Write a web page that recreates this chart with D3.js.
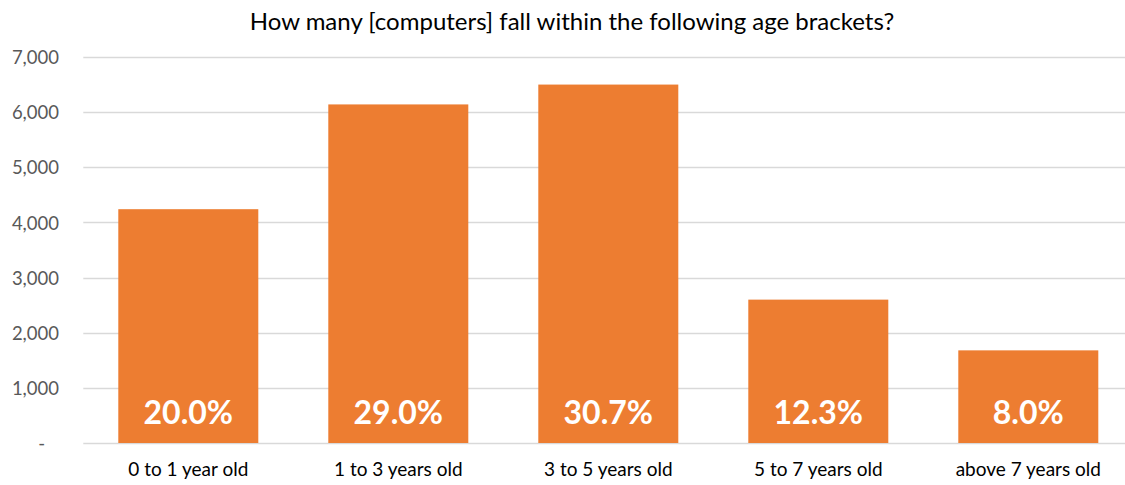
<!DOCTYPE html>
<html>
<head>
<meta charset="utf-8">
<script src="https://cdn.jsdelivr.net/npm/d3@7"></script>
<style>
  html, body { margin: 0; padding: 0; background: #fff; }
  svg { display: block; font-family: Lato, "Open Sans", sans-serif; }
</style>
</head>
<body>
<svg id="chart" width="1125" height="485"></svg>
<script>
// Computer counts per age bracket
const categories = ["0 to 1 year old", "1 to 3 years old", "3 to 5 years old", "5 to 7 years old", "above 7 years old"];
const counts = [4240, 6140, 6500, 2600, 1680];
const shareLabels = ["20.0%", "29.0%", "30.7%", "12.3%", "8.0%"];
const yTicks = [0, 1000, 2000, 3000, 4000, 5000, 6000, 7000];
const title = "How many [computers] fall within the following age brackets?";

const svg = d3.select("#chart");
const W = 1125, H = 485;
const plot = { left: 83.3, right: 1133.3, top: 57, bottom: 443 };

const x = d3.scaleBand()
  .domain(categories)
  .range([plot.left, plot.right])
  .paddingInner(1 / 3)
  .paddingOuter(1 / 6);

const y = d3.scaleLinear()
  .domain([0, 7000])
  .range([plot.bottom, plot.top]);

// Title
svg.append("text")
  .attr("x", 572)
  .attr("y", 30)
  .attr("text-anchor", "middle")
  .attr("fill", "#000")
  .style("font-size", "24px")
  .text(title);

// Horizontal gridlines
svg.append("g")
  .selectAll("line")
  .data(yTicks)
  .join("line")
  .attr("x1", plot.left)
  .attr("x2", W)
  .attr("y1", d => Math.round(y(d)) + 0.5)
  .attr("y2", d => Math.round(y(d)) + 0.5)
  .attr("stroke", "#d9d9d9")
  .attr("stroke-width", 1.3);

// Y axis labels (zero shown as a dash)
const fmt = d3.format(",");
const yAxis = d3.axisLeft(y)
  .tickValues(yTicks)
  .tickSize(0)
  .tickPadding(0)
  .tickFormat(d => d === 0 ? "-" : fmt(d));
const gy = svg.append("g")
  .attr("transform", "translate(59,0)")
  .call(yAxis);
gy.select(".domain").remove();
gy.selectAll("text")
  .attr("fill", "#595959")
  .style("font-family", "Lato, sans-serif")
  .style("font-size", "18.5px")
  .attr("dy", "0.36em");
gy.selectAll(".tick")
  .filter(d => d === 0)
  .select("text")
  .attr("x", -14);

// Bars
svg.append("g")
  .selectAll("rect")
  .data(categories)
  .join("rect")
  .attr("x", d => x(d))
  .attr("width", x.bandwidth())
  .attr("y", (d, i) => y(counts[i]))
  .attr("height", (d, i) => y(0) - y(counts[i]))
  .attr("fill", "#ed7d31");

// Share labels inside bars
svg.append("g")
  .selectAll("text")
  .data(categories)
  .join("text")
  .attr("x", d => x(d) + x.bandwidth() / 2)
  .attr("y", 424)
  .attr("text-anchor", "middle")
  .attr("fill", "#fff")
  .style("font-weight", "bold")
  .style("font-size", "32px")
  .text((d, i) => shareLabels[i]);

// Category axis labels
const xAxis = d3.axisBottom(x).tickSize(0).tickPadding(0);
const gx = svg.append("g")
  .attr("transform", `translate(0,${plot.bottom})`)
  .call(xAxis);
gx.select(".domain").remove();
gx.selectAll("text")
  .attr("y", 33)
  .attr("dy", 0)
  .attr("fill", "#000")
  .style("font-family", "Lato, sans-serif")
  .style("font-size", "19px");
</script>
</body>
</html>
